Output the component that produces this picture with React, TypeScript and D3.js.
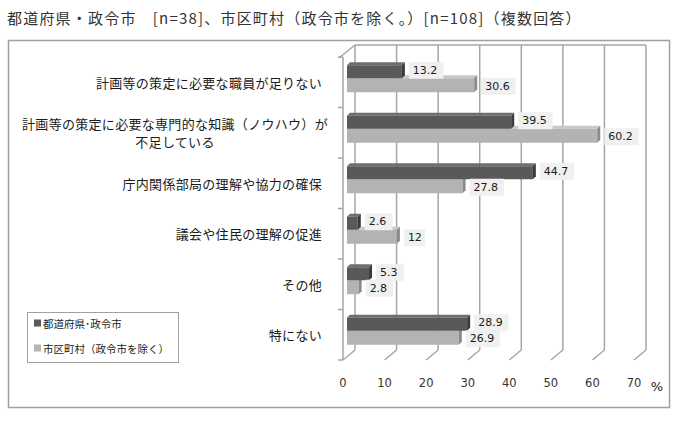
import React from "react";
import * as d3 from "d3";

const categories: string[][] = [
  ["計画等の策定に必要な職員が足りない"],
  ["計画等の策定に必要な専門的な知識（ノウハウ）が", "不足している"],
  ["庁内関係部局の理解や協力の確保"],
  ["議会や住民の理解の促進"],
  ["その他"],
  ["特にない"],
];
const prefValues = [13.2, 39.5, 44.7, 2.6, 5.3, 28.9];
const muniValues = [30.6, 60.2, 27.8, 12, 2.8, 26.9];
const muniLabels = ["30.6", "60.2", "27.8", "12", "2.8", "26.9"];
const prefLabels = ["13.2", "39.5", "44.7", "2.6", "5.3", "28.9"];
const ticks = [0, 10, 20, 30, 40, 50, 60, 70];
const seriesNames = ["都道府県･政令市", "市区町村（政令市を除く）"];
const title = "都道府県・政令市　[n=38]、市区町村（政令市を除く。）[n=108]（複数回答）";

const JP = "'Noto Sans CJK JP', 'Noto Sans', sans-serif";
const NUM = "'DejaVu Sans', Verdana, sans-serif";

export default function App() {
  const frontX0 = 343;
  const backDx = 12;
  const backDy = -10;
  const top = 57;
  const bottom = 360;
  const x = d3.scaleLinear().domain([0, 70]).range([0, 291]);
  const band = d3
    .scaleBand<number>()
    .domain(d3.range(categories.length))
    .range([top, bottom]);
  const barX0 = 347;
  const dd = 3;

  const gridColor = "#a6a6a6";

  const bar = (
    v: number,
    yTop: number,
    yBot: number,
    front: string,
    topC: string,
    side: string,
    key: string
  ) => {
    const xe = barX0 + x(v);
    return (
      <g key={key}>
        <polygon
          points={`${barX0},${yTop} ${barX0 + dd},${yTop - dd} ${xe + dd},${yTop - dd} ${xe},${yTop}`}
          fill={topC}
        />
        <rect x={barX0} y={yTop} width={xe - barX0} height={yBot - yTop} fill={front} />
        <polygon
          points={`${xe},${yTop} ${xe + dd},${yTop - dd} ${xe + dd},${yBot - dd} ${xe},${yBot}`}
          fill={side}
        />
      </g>
    );
  };

  const valueLabel = (v: number, txt: string, cy: number, key: string) => {
    const xe = barX0 + x(v) + dd;
    const w = txt.length * 6.6 + 8;
    return (
      <g key={key}>
        <rect x={xe + 4} y={cy - 8.5} width={w} height={17} fill="#f0f0f0" />
        <text
          x={xe + 8}
          y={cy}
          dominantBaseline="central"
          fontFamily={NUM}
          fontSize={11}
          fill="#1a1a1a"
        >
          {txt}
        </text>
      </g>
    );
  };

  return (
    <svg
      width={680}
      height={423}
      style={{ position: "absolute", left: 0, top: 0, background: "#fff" }}
    >
      <text
        x={7}
        y={17}
        dominantBaseline="central"
        fontFamily={JP}
        fontSize={15}
        letterSpacing={1.2}
        fill="#333"
      >
        {title}
      </text>
      {/* outer frame */}
      <rect x={8.5} y={40.5} width={661} height={367} fill="none" stroke="#a0a0a0" strokeWidth={1.5} />

      {/* back wall grid */}
      <line
        x1={frontX0 + backDx}
        x2={frontX0 + backDx + x(70)}
        y1={top + backDy - 2}
        y2={top + backDy - 2}
        stroke={gridColor}
        strokeWidth={1.5}
      />
      {ticks.map((t) => (
        <g key={"g" + t}>
          <line
            x1={frontX0 + backDx + x(t)}
            x2={frontX0 + backDx + x(t)}
            y1={top + backDy - 2}
            y2={bottom + backDy}
            stroke={gridColor}
            strokeWidth={1.5}
          />
          <line
            x1={frontX0 + x(t)}
            y1={bottom}
            x2={frontX0 + backDx + x(t)}
            y2={bottom + backDy}
            stroke={gridColor}
            strokeWidth={1.5}
          />
          <text
            x={frontX0 + x(t)}
            y={383}
            textAnchor="middle"
            dominantBaseline="central"
            fontFamily={NUM}
            fontSize={11.5}
            fill="#333"
          >
            {t}
          </text>
        </g>
      ))}
      {/* left wall */}
      <line x1={frontX0} x2={frontX0} y1={top} y2={bottom} stroke={gridColor} strokeWidth={1.5} />
      <line
        x1={frontX0 - 4}
        y1={top + 1}
        x2={frontX0 + backDx}
        y2={top + backDy - 2}
        stroke={gridColor}
        strokeWidth={1.5}
      />
      {d3.range(categories.length + 1).map((i) => {
        const yb = top + band.step() * i;
        return (
          <line key={"t" + i} x1={frontX0 - 5} x2={frontX0} y1={yb} y2={yb} stroke={gridColor} strokeWidth={1.5} />
        );
      })}

      {/* bars */}
      {categories.map((_, i) => {
        const c = (band(i) as number) + band.bandwidth() / 2 - 5;
        return (
          <g key={"b" + i}>
            {bar(muniValues[i], c + 1, c + 15, "#b3b3b3", "#c8c8c8", "#8a8a8a", "m" + i)}
            {bar(prefValues[i], c - 12, c + 1, "#595959", "#6e6e6e", "#3a3a3a", "p" + i)}
          </g>
        );
      })}
      {categories.map((_, i) => {
        const c = (band(i) as number) + band.bandwidth() / 2 - 5;
        return (
          <g key={"l" + i}>
            {valueLabel(prefValues[i], prefLabels[i], c - 7, "pl" + i)}
            {valueLabel(muniValues[i], muniLabels[i], c + 9, "ml" + i)}
          </g>
        );
      })}

      {/* category labels */}
      {categories.map((lines, i) => {
        const cy = (band(i) as number) + band.bandwidth() / 2;
        if (lines.length === 1) {
          return (
            <text
              key={"c" + i}
              x={322}
              y={cy}
              textAnchor="end"
              dominantBaseline="central"
              fontFamily={JP}
              fontSize={13}
              letterSpacing={0.3}
              fill="#1a1a1a"
            >
              {lines[0]}
            </text>
          );
        }
        return (
          <g key={"c" + i}>
            {lines.map((ln, j) => (
              <text
                key={j}
                x={175}
                y={cy + (j - (lines.length - 1) / 2) * 18}
                textAnchor="middle"
                dominantBaseline="central"
                fontFamily={JP}
                fontSize={13}
                letterSpacing={0.3}
                fill="#1a1a1a"
              >
                {ln}
              </text>
            ))}
          </g>
        );
      })}

      <text x={657} y={386} textAnchor="middle" dominantBaseline="central" fontFamily={NUM} fontSize={13} fill="#222">
        %
      </text>

      {/* legend */}
      <rect x={27.5} y={312.5} width={151} height={50} fill="#fff" stroke="#a0a0a0" strokeWidth={1} />
      <rect x={34} y={319.5} width={7} height={7} fill="#595959" />
      <text x={43} y={323} dominantBaseline="central" fontFamily={JP} fontSize={10.5} fill="#1a1a1a">
        {seriesNames[0]}
      </text>
      <rect x={34} y={344.5} width={7} height={7} fill="#b3b3b3" />
      <text x={43} y={348} dominantBaseline="central" fontFamily={JP} fontSize={10.5} fill="#1a1a1a">
        {seriesNames[1]}
      </text>
    </svg>
  );
}
